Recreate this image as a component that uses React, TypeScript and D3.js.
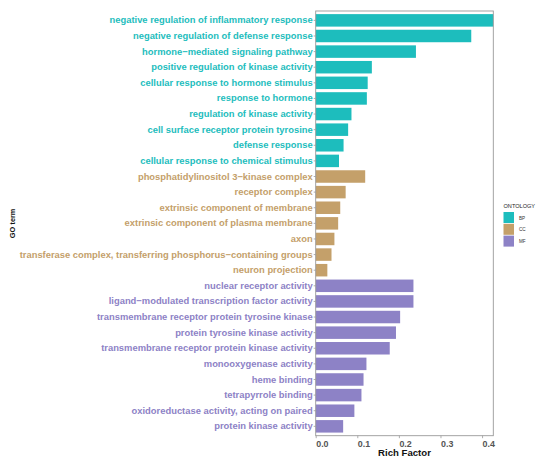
import React, { useEffect, useRef } from 'react';
import * as d3 from 'd3';

// GO terms top to bottom, with ontology and rich factor
const terms = [
  'negative regulation of inflammatory response',
  'negative regulation of defense response',
  'hormone\u2212mediated signaling pathway',
  'positive regulation of kinase activity',
  'cellular response to hormone stimulus',
  'response to hormone',
  'regulation of kinase activity',
  'cell surface receptor protein tyrosine',
  'defense response',
  'cellular response to chemical stimulus',
  'phosphatidylinositol 3\u2212kinase complex',
  'receptor complex',
  'extrinsic component of membrane',
  'extrinsic component of plasma membrane',
  'axon',
  'transferase complex, transferring phosphorus\u2212containing groups',
  'neuron projection',
  'nuclear receptor activity',
  'ligand\u2212modulated transcription factor activity',
  'transmembrane receptor protein tyrosine kinase',
  'protein tyrosine kinase activity',
  'transmembrane receptor protein kinase activity',
  'monooxygenase activity',
  'heme binding',
  'tetrapyrrole binding',
  'oxidoreductase activity, acting on paired',
  'protein kinase activity',
];

const ontology = [
  'BP', 'BP', 'BP', 'BP', 'BP', 'BP', 'BP', 'BP', 'BP', 'BP',
  'CC', 'CC', 'CC', 'CC', 'CC', 'CC', 'CC',
  'MF', 'MF', 'MF', 'MF', 'MF', 'MF', 'MF', 'MF', 'MF', 'MF',
];

const richFactor = [
  0.427, 0.374, 0.241, 0.135, 0.125, 0.123, 0.086, 0.078, 0.067, 0.056,
  0.119, 0.072, 0.059, 0.054, 0.045, 0.038, 0.028,
  0.235, 0.235, 0.203, 0.193, 0.178, 0.122, 0.115, 0.110, 0.093, 0.066,
];

const groups = ['BP', 'CC', 'MF'];
const groupColors = ['#1dbdbd', '#c4a06a', '#8d82c6'];
const xTicks = [0, 0.1, 0.2, 0.3, 0.4];

const W = 550;
const H = 466;
const margin = { top: 11, right: 56.7, bottom: 30.3, left: 315.7 };
const FONT = '"Liberation Sans", Arial, sans-serif';

const App: React.FC = () => {
  const axisRef = useRef<SVGGElement>(null);

  const innerW = W - margin.left - margin.right;
  const innerH = H - margin.top - margin.bottom;

  const x = d3.scaleLinear().domain([0, 0.427]).range([margin.left, margin.left + innerW]);
  const y = d3.scaleBand<string>()
    .domain(terms)
    .range([margin.top, margin.top + innerH])
    .paddingInner(0.2)
    .paddingOuter(0.2);
  const color = d3.scaleOrdinal<string, string>().domain(groups).range(groupColors);

  useEffect(() => {
    if (!axisRef.current) return;
    const g = d3.select(axisRef.current);
    g.selectAll('*').remove();

    g.append('g')
      .attr('transform', `translate(0,${margin.top + innerH})`)
      .call(d3.axisBottom(x).tickValues(xTicks).tickSize(2.5).tickFormat(d3.format('.1f')))
      .call(s => s.select('.domain').remove())
      .call(s => s.selectAll('.tick line').attr('stroke', '#999').attr('stroke-width', 0.8))
      .call(s => s.selectAll('.tick text')
        .attr('fill', '#555')
        .attr('font-family', FONT)
        .attr('font-weight', 'bold')
        .attr('font-size', '8.9px')
        .attr('text-anchor', 'start')
        .attr('dy', '0.6em')
        .attr('y', 5.5));

    g.append('g')
      .attr('transform', `translate(${margin.left},0)`)
      .call(d3.axisLeft(y).tickSize(2).tickPadding(1))
      .call(s => s.select('.domain').remove())
      .call(s => s.selectAll('.tick line').attr('stroke', '#999').attr('stroke-width', 0.8))
      .call(s => s.selectAll<SVGTextElement, string>('.tick text')
        .attr('fill', d => color(ontology[terms.indexOf(d)]))
        .attr('font-family', FONT)
        .attr('font-weight', 'bold')
        .attr('font-size', '9.4px'));
  }, []);

  return (
    <svg width={W} height={H} style={{ position: 'absolute', left: 0, top: 0, background: '#fff' }}>
      {terms.map((t, i) => (
        <rect
          key={t}
          x={x(0)}
          y={y(t)}
          width={x(richFactor[i]) - x(0)}
          height={y.bandwidth()}
          fill={color(ontology[i])}
        />
      ))}
      <rect
        x={margin.left}
        y={margin.top}
        width={innerW}
        height={innerH}
        fill="none"
        stroke="#999"
        strokeWidth={0.9}
      />
      <g ref={axisRef} />

      <text
        x={margin.left + innerW / 2}
        y={456}
        textAnchor="middle"
        fontFamily={FONT}
        fontWeight="bold"
        fontSize="9.6px"
        fill="#111"
      >
        Rich Factor
      </text>
      <text
        transform={`translate(15,${margin.top + innerH / 2}) rotate(-90)`}
        textAnchor="middle"
        fontFamily={FONT}
        fontWeight="bold"
        fontSize="7.4px"
        fill="#111"
      >
        GO term
      </text>

      {/* legend */}
      <text x={503.5} y={207.5} fontFamily={FONT} fontSize="5.6px" fill="#222">ONTOLOGY</text>
      {groups.map((gname, i) => (
        <g key={gname} transform={`translate(503.5,${212 + i * 11.8})`}>
          <rect width={10.5} height={11} fill={groupColors[i]} />
          <text x={15.5} y={7.5} fontFamily={FONT} fontSize="4.6px" fill="#333">{gname}</text>
        </g>
      ))}
    </svg>
  );
};

export default App;
